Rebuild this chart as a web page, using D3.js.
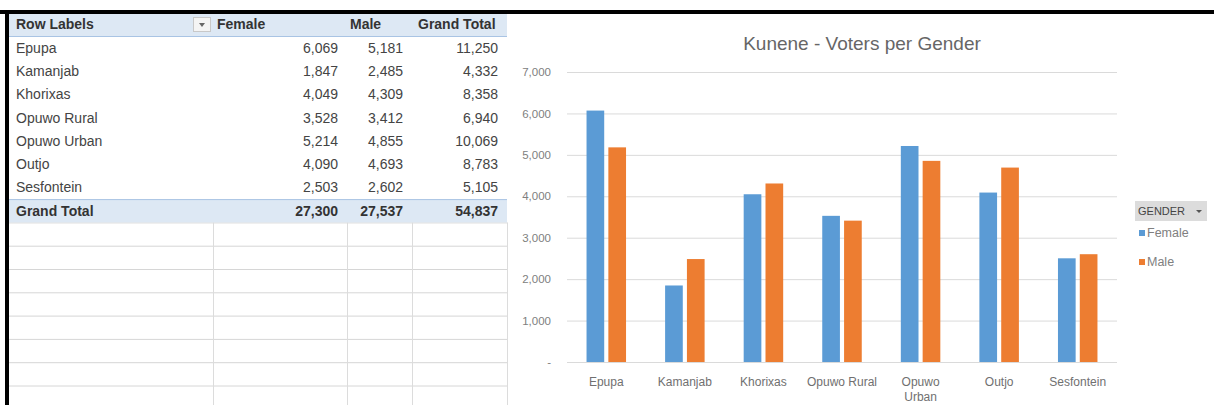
<!DOCTYPE html>
<html>
<head>
<meta charset="utf-8">
<script src="https://cdn.jsdelivr.net/npm/d3@7"></script>
<style>
  html, body { margin: 0; padding: 0; background: #fff; }
  svg text { font-family: "Liberation Sans", Arial, sans-serif; }
</style>
</head>
<body>
<div id="canvas"></div>
<script>
// pivot table / chart data
const categories = ["Epupa", "Kamanjab", "Khorixas", "Opuwo Rural", "Opuwo Urban", "Outjo", "Sesfontein"];
const xTickLabels = ["Epupa", "Kamanjab", "Khorixas", "Opuwo Rural", "Opuwo\nUrban", "Outjo", "Sesfontein"];
const female = [6069, 1847, 4049, 3528, 5214, 4090, 2503];
const male = [5181, 2485, 4309, 3412, 4855, 4693, 2602];
const grandTotal = [11250, 4332, 8358, 6940, 10069, 8783, 5105];
const totals = [27300, 27537, 54837];
const seriesNames = ["Female", "Male"];
const headers = ["Row Labels", "Female", "Male", "Grand Total"];
const yTicks = [0, 1000, 2000, 3000, 4000, 5000, 6000, 7000];
const chartTitle = "Kunene - Voters per Gender";
const legendTitle = "GENDER";

const W = 1214, H = 405;
const colors = { Female: "#5b9bd5", Male: "#ed7d31" };

const svg = d3.select("#canvas").append("svg")
  .attr("width", W).attr("height", H);

svg.append("rect").attr("width", W).attr("height", H).attr("fill", "#fff");

// ---------- table ----------
const colEdges = [9, 213, 347, 412, 507];
const rowTop = 12.7, rowH = 23.3;
const fmt = d3.format(",");
const table = svg.append("g");

// empty grid below the pivot
const emptyRows = d3.range(9, 17);
table.selectAll(".hline").data(emptyRows).enter().append("line")
  .attr("x1", colEdges[0]).attr("x2", colEdges[4])
  .attr("y1", (d) => rowTop + d * rowH + 0.5)
  .attr("y2", (d) => rowTop + d * rowH + 0.5)
  .attr("stroke", "#d6d6d6");
table.selectAll(".vline").data(colEdges.slice(1)).enter().append("line")
  .attr("x1", (d) => d + 0.5).attr("x2", (d) => d + 0.5)
  .attr("y1", rowTop + 9 * rowH).attr("y2", H)
  .attr("stroke", "#dcdcdc");

// header + grand total bands
[0, 8].forEach((r) => {
  table.append("rect")
    .attr("x", colEdges[0]).attr("y", rowTop + r * rowH)
    .attr("width", colEdges[4] - colEdges[0]).attr("height", rowH)
    .attr("fill", "#dde8f4");
  table.append("line")
    .attr("x1", colEdges[0]).attr("x2", colEdges[4])
    .attr("y1", rowTop + (r === 0 ? rowH : r * rowH) + 0.5)
    .attr("y2", rowTop + (r === 0 ? rowH : r * rowH) + 0.5)
    .attr("stroke", "#a9c4e4");
});

// header text
const headerX = [16, 217, 350, 418];
table.selectAll(".hdr").data(headers).enter().append("text")
  .attr("x", (d, i) => headerX[i])
  .attr("y", rowTop + rowH / 2 + 5)
  .attr("font-size", 14).attr("font-weight", "bold")
  .attr("fill", "#333")
  .text((d) => d);

// filter dropdown
table.append("rect").attr("x", 193.5).attr("y", 17.5).attr("width", 17).attr("height", 14)
  .attr("fill", "#f4f4f4").attr("stroke", "#c8c8c8");
table.append("path").attr("d", "M199,23 L205,23 L202,27 Z").attr("fill", "#666");

// data rows
const rows = categories.map((c, i) => [c, female[i], male[i], grandTotal[i]]);
rows.push(["Grand Total"].concat(totals));
const valRight = [0, 338, 403, 498];

rows.forEach((row, r) => {
  const y = rowTop + (r + 1) * rowH + rowH / 2 + 5;
  const bold = r === rows.length - 1;
  table.append("text")
    .attr("x", 16).attr("y", y)
    .attr("font-size", 14).attr("font-weight", bold ? "bold" : "normal")
    .attr("fill", bold ? "#333" : "#444")
    .text(row[0]);
  row.slice(1).forEach((v, j) => {
    table.append("text")
      .attr("x", valRight[j + 1]).attr("y", y)
      .attr("text-anchor", "end")
      .attr("font-size", 14).attr("font-weight", bold ? "bold" : "normal")
      .attr("fill", bold ? "#333" : "#444")
      .text(fmt(v));
  });
});

// ---------- chart ----------
const plot = { left: 567, right: 1117, top: 72, bottom: 362 };

const y = d3.scaleLinear().domain([0, 7000]).range([plot.bottom, plot.top]);
const x0 = d3.scaleBand().domain(categories).range([plot.left, plot.right]).padding(0);
const groupW = 39.5;
const x1 = d3.scaleBand().domain(seriesNames)
  .range([(x0.bandwidth() - groupW) / 2, (x0.bandwidth() + groupW) / 2])
  .paddingInner(0.19);

const chart = svg.append("g");

chart.append("text")
  .attr("x", 862).attr("y", 50)
  .attr("text-anchor", "middle")
  .attr("font-size", 19).attr("fill", "#666")
  .text(chartTitle);

// gridlines
const yAxis = d3.axisLeft(y).tickValues(yTicks)
  .tickSize(-(plot.right - plot.left))
  .tickPadding(16)
  .tickFormat((d) => (d === 0 ? "-" : fmt(d)));

const yg = chart.append("g")
  .attr("transform", `translate(${plot.left},0)`)
  .call(yAxis);
yg.select(".domain").remove();
yg.selectAll(".tick line").attr("stroke", "#dadada");
yg.selectAll(".tick text")
  .attr("font-size", 11.5).attr("fill", "#808080");

// bars
const groups = chart.selectAll(".grp").data(categories).enter().append("g")
  .attr("transform", (d) => `translate(${x0(d)},0)`);

groups.selectAll("rect")
  .data((d, i) => seriesNames.map((s) => ({ s, v: s === "Female" ? female[i] : male[i] })))
  .enter().append("rect")
  .attr("x", (d) => x1(d.s))
  .attr("y", (d) => y(d.v))
  .attr("width", x1.bandwidth())
  .attr("height", (d) => y(0) - y(d.v))
  .attr("fill", (d) => colors[d.s]);

// x axis labels
const xg = chart.append("g");
categories.forEach((c, i) => {
  const lines = xTickLabels[i].split("\n");
  const t = xg.append("text")
    .attr("x", x0(c) + x0.bandwidth() / 2)
    .attr("y", 386)
    .attr("text-anchor", "middle")
    .attr("font-size", 12).attr("fill", "#707070");
  lines.forEach((ln, k) => {
    t.append("tspan")
      .attr("x", x0(c) + x0.bandwidth() / 2)
      .attr("dy", k === 0 ? 0 : 15)
      .text(ln);
  });
});

// legend
const lg = chart.append("g");
lg.append("rect").attr("x", 1135).attr("y", 201).attr("width", 72).attr("height", 20)
  .attr("fill", "#dcdcdc");
lg.append("text").attr("x", 1138).attr("y", 215)
  .attr("font-size", 11).attr("fill", "#444").text(legendTitle);
lg.append("path").attr("d", "M1196,210 L1202,210 L1199,213 Z").attr("fill", "#555");

seriesNames.forEach((s, i) => {
  const cy = 233 + i * 29;
  lg.append("rect").attr("x", 1139).attr("y", cy - 3).attr("width", 6).attr("height", 6)
    .attr("fill", colors[s]);
  lg.append("text").attr("x", 1147).attr("y", cy + 4)
    .attr("font-size", 12.5).attr("fill", "#808080").text(s);
});

// window frame
svg.append("rect").attr("x", 0).attr("y", 10).attr("width", W).attr("height", 4).attr("fill", "#000");
svg.append("rect").attr("x", 5).attr("y", 10).attr("width", 4).attr("height", H - 10).attr("fill", "#000");
</script>
</body>
</html>
